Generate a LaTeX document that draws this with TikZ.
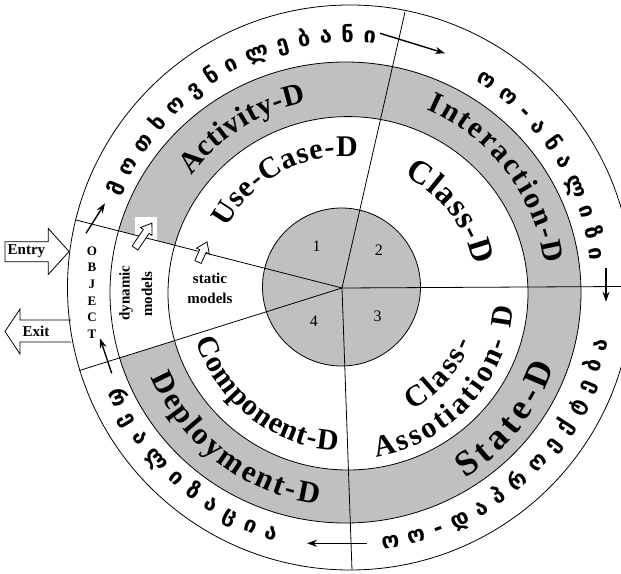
\documentclass[tikz,border=0pt]{standalone}
\usepackage{fontspec}
\setmainfont{Liberation Serif}
\newfontfamily\geofont{DejaVu Sans}
\usetikzlibrary{decorations.text,arrows.meta}
\definecolor{ringgray}{RGB}{192,192,192}
% fonts for the curved captions
\newcommand\fRing{\bfseries\fontsize{30}{30}\selectfont}
\newcommand\fDeploy{\bfseries\fontsize{31}{31}\selectfont}
\newcommand\fWide{\bfseries\fontsize{33}{33}\selectfont}
\newcommand\fState{\bfseries\fontsize{36}{36}\selectfont}
\newcommand\fGeo{\geofont\bfseries\fontsize{22}{22}\selectfont}
% hollow block arrow: tail x, tail y, direction, length
\newcommand\hollowArrow[4]{%
  \draw[hollow,shift={(#1,#2)},rotate=#3]
    (0,-3.5) -- ({#4-10},-3.5) -- ({#4-10},-7) -- (#4,0) -- ({#4-10},7) -- ({#4-10},3.5) -- (0,3.5) -- cycle;}
\begin{document}
\begin{tikzpicture}[x=1pt,y=1pt,
  ring/.style={line width=0.8pt},
  divider/.style={line width=0.8pt},
  flow/.style={line width=1.4pt,-{Stealth[length=10pt,width=7pt]}},
  hollow/.style={draw,line width=0.8pt,fill=white},
  lbl/.style={font=\fontsize{15}{15}\selectfont\bfseries,inner sep=0pt},
  num/.style={font=\fontsize{16}{16}\selectfont,inner sep=0pt},
  arctext/.style={decorate,decoration={text along path,text align=fit to path,text={#1}}}
]
\useasboundingbox (-342,-285) rectangle (279,288);
\clip (-342,-285) rectangle (279,288);

% centre and the ends of the five dividing lines
\coordinate (c) at (0,0);
\coordinate (e1) at (-266,68);
\coordinate (e2) at (-262.5,-82.5);
\coordinate (e3) at (63,276);
\coordinate (e4) at (279,1.5);
\coordinate (e5) at (10,-282);

% grey ring with the white "models" sector, grey core
\fill[ringgray] (3.5,-4.5) ellipse[x radius=235.5,y radius=230.5];
\fill[white] (6,-5.3) ellipse[x radius=180,y radius=176.7];
\fill[white] (c) -- (e1) -- (e2) -- cycle;
\fill[white] (-207,48) rectangle (-185,71);
\fill[ringgray] (-0.5,1) circle[radius=79];

% outlines
\draw[ring] (8,0.5) circle[radius=282.5];
\draw[ring] (3.5,-4.5) ellipse[x radius=235.5,y radius=230.5];
\draw[ring] (6,-5.3) ellipse[x radius=180,y radius=176.7];
\draw[ring] (-0.5,1) circle[radius=79];
\foreach \e in {e1,e2,e3,e4,e5} \draw[divider] (c) -- (\e);

% Entry / Exit block arrows
\draw[hollow] (-337,26.3) -- (-293.7,26.3) -- (-293.7,13.5) -- (-273,36.5) -- (-293.7,59.5) -- (-293.7,46.3) -- (-337,46.3) -- cycle;
\node[lbl] (entry) at (-315.5,36.5) {Entry};
\draw[line width=0.8pt] (-271,-32) -- (-322,-32) -- (-322,-21) -- (-337,-43.5) -- (-322,-66) -- (-322,-54) -- (-271,-54);
\node[lbl] (exit) at (-306,-43) {Exit};

% cycle arrows in the outer ring
\coordinate (a1s) at (38,254.7);   \coordinate (a1e) at (103,234.7);
\coordinate (a2s) at (264,20);     \coordinate (a2e) at (264,-13.7);
\coordinate (a3s) at (25,-255.3);  \coordinate (a3e) at (-35,-255.3);
\coordinate (a4s) at (-230.3,-85.3); \coordinate (a4e) at (-242,-50.3);
\coordinate (a5s) at (-256,54.7);  \coordinate (a5e) at (-237,84.7);
\foreach \i in {1,...,5} \draw[flow] (a\i s) -- (a\i e);

% small hollow arrows
\hollowArrow{-207}{40}{55.8}{30}
\hollowArrow{-144}{26}{65.8}{22}

% straight labels
\node[lbl,align=center,font=\fontsize{13}{16.6}\selectfont\bfseries] (obj) at (-250,-4.5) {O\\B\\J\\E\\C\\T};
\node[lbl,rotate=90] (dyn) at (-216,-5) {dynamic};
\node[lbl,rotate=90] (dynm) at (-195,-6) {models};
\node[lbl] (stat) at (-132,10) {static};
\node[lbl] (statm) at (-132,-10) {models};
\node[num] (n1) at (-25.3,41.3) {1};
\node[num] (n2) at (37,38) {2};
\node[num] (n3) at (35.7,-28.7) {3};
\node[num] (n4) at (-28,-33.7) {4};

% curved captions, inner rings
\path[arctext={|\fRing|Activity-D}] ([shift={(5,-5)}]143:195) arc[start angle=143,end angle=102,radius=195];
\path[arctext={|\fRing|Interaction-D}] ([shift={(5,-5)}]66.6:200) arc[start angle=66.6,end angle=8.4,radius=200];
\path[arctext={|\fRing|Use-Case-D}] ([shift={(5,-5)}]151.5:137) arc[start angle=151.5,end angle=85.5,radius=137];
\path[arctext={|\fWide|Class-D}] ([shift={(5,-5)}]63.9:130) arc[start angle=63.9,end angle=12.2,radius=130];
\path[arctext={|\fRing|Component-D}] ([shift={(5,-5)}]197.5:158) arc[start angle=197.5,end angle=266.5,radius=158];
\path[arctext={|\fDeploy|Deployment-D}] ([shift={(5,-5)}]203.2:213) arc[start angle=203.2,end angle=262.2,radius=213];
\path[arctext={|\fState|State-D}] ([shift={(5,-5)}]-57.6:220) arc[start angle=-57.6,end angle=-19.4,radius=220];
\path[arctext={|\fRing|Class-}] ([shift={(5,-5)}]-61:134) arc[start angle=-61,end angle=-21.6,radius=134];
\path[arctext={|\fRing|Assotiation- D}] ([shift={(5,-5)}]-80:167) arc[start angle=-80,end angle=-5,radius=167];

% curved captions, outer ring
\path[arctext={|\fGeo|მოთხოვნილებანი}] ([shift={(8,0)}]158.4:246) arc[start angle=158.4,end angle=84.1,radius=246];
\path[arctext={|\fGeo|ოო-ანალიზი}] ([shift={(8,0)}]58.9:242) arc[start angle=58.9,end angle=6.4,radius=242];
\path[arctext={|\fGeo|ოო-დაპროექტება}] ([shift={(8,0)}]-82.9:263) arc[start angle=-82.9,end angle=-11.5,radius=263];
\path[arctext={|\fGeo|რეალიზაცია}] ([shift={(8,0)}]203.3:264) arc[start angle=203.3,end angle=253.4,radius=264];
\end{tikzpicture}
\end{document}
